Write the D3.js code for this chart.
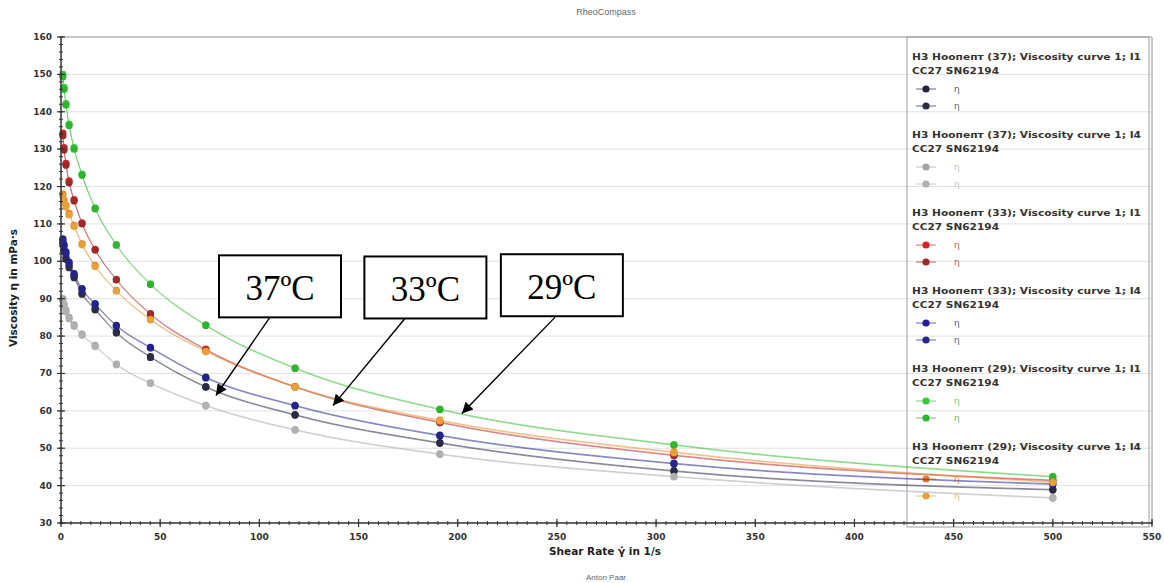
<!DOCTYPE html>
<html>
<head>
<meta charset="utf-8">
<script src="https://cdn.jsdelivr.net/npm/d3@7"></script>
<style>
  body { margin: 0; background: #fff; }
  text { font-family: "DejaVu Sans", Verdana, sans-serif; }
</style>
</head>
<body>
<svg id="chart" width="1164" height="583"></svg>
<script>
// shear rate points of every curve, 1/s
const shearRates = [0.96, 1.55, 2.51, 4.07, 6.6, 10.6, 17.2, 27.9, 45.1, 73, 118, 191, 309, 500];

// viscosity, mPa·s (two η curves per measurement)
const navyA   = [105, 103, 101, 98.8, 96, 91.5, 87.3, 81.1, 74.5, 66.5, 59, 51.5, 44, 39];
const navyB   = [104.5, 102.6, 100.5, 98.3, 95.6, 91.2, 87, 80.8, 74.3, 66.3, 58.8, 51.3, 43.8, 38.8];
const grayA   = [90, 88.5, 87, 85, 83, 80.5, 77.5, 72.5, 67.5, 61.5, 55, 48.5, 42.5, 36.8];
const grayB   = [89.4, 88, 86.5, 84.6, 82.6, 80.2, 77.2, 72.3, 67.3, 61.3, 54.8, 48.3, 42.3, 36.6];
const redA    = [134.3, 130.4, 126.2, 121.5, 116.5, 110.3, 103.2, 95.2, 86, 76.5, 66.5, 57, 48.2, 41.5];
const redB    = [133.6, 129.8, 125.7, 121, 116.1, 110, 103, 95, 85.8, 76.3, 66.3, 56.8, 48, 41.3];
const blueA   = [106, 104.5, 102.5, 99.8, 96.7, 92.7, 88.7, 82.9, 77, 69, 61.5, 53.5, 46, 40.5];
const blueB   = [105.5, 104, 102, 99.4, 96.4, 92.4, 88.4, 82.7, 76.8, 68.8, 61.3, 53.3, 45.8, 40.3];
const greenA  = [150, 146.5, 142.2, 136.7, 130.4, 123.3, 114.3, 104.5, 94, 83, 71.5, 60.5, 51, 42.5];
const greenB  = [149.4, 146, 141.8, 136.3, 130, 123, 114, 104.3, 93.8, 82.8, 71.3, 60.3, 50.8, 42.3];
const orangeA = [118, 116.3, 115, 112.8, 109.6, 104.7, 98.9, 92.2, 84.5, 76, 66.5, 57.5, 49, 41];
const orangeB = [117.4, 115.8, 114.5, 112.4, 109.3, 104.4, 98.6, 92, 84.3, 75.8, 66.3, 57.3, 48.8, 40.8];

const groupTitles = [
  "Н3 Ноопепт (37); Viscosity curve 1; I1",
  "Н3 Ноопепт (37); Viscosity curve 1; I4",
  "Н3 Ноопепт (33); Viscosity curve 1; I1",
  "Н3 Ноопепт (33); Viscosity curve 1; I4",
  "Н3 Ноопепт (29); Viscosity curve 1; I1",
  "Н3 Ноопепт (29); Viscosity curve 1; I4"
];
const groupSub = "CC27 SN62194";

const groups = [
  { series: [navyA, navyB],     colors: ["#22223f", "#2b2b44"] },
  { series: [grayA, grayB],     colors: ["#a4a4a4", "#b0b0b0"] },
  { series: [redA, redB],       colors: ["#d42424", "#9c2a2a"] },
  { series: [blueA, blueB],     colors: ["#1e1e96", "#24248a"] },
  { series: [greenA, greenB],   colors: ["#35c935", "#2fb42f"] },
  { series: [orangeA, orangeB], colors: ["#f07a26", "#e6a23a"] }
];

const xTicks = [0, 50, 100, 150, 200, 250, 300, 350, 400, 450, 500, 550];
const yTicks = [30, 40, 50, 60, 70, 80, 90, 100, 110, 120, 130, 140, 150, 160];

const annotations = [
  { label: "37ºC", cx: 110.4, cy: 93.3, fx: 105.3, fy: 85, tx: 78.1, ty: 64.1 },
  { label: "33ºC", cx: 183.7, cy: 93.0, fx: 173.4, fy: 84.7, tx: 137.1, ty: 61.4 },
  { label: "29ºC", cx: 252.5, cy: 93.6, fx: 249, fy: 85, tx: 202.1, ty: 59.3 }
];

const svg = d3.select("#chart");
const plotLeft = 61, plotRight = 1152, plotTop = 37, plotBottom = 523;

const x = d3.scaleLinear().domain([0, 550]).range([plotLeft, plotRight]);
const y = d3.scaleLinear().domain([30, 160]).range([plotBottom, plotTop]);

// title and footer
svg.append("text").attr("x", 606).attr("y", 15).attr("text-anchor", "middle")
  .style("font-family", "'Liberation Sans', Arial, sans-serif")
  .attr("font-size", 9).attr("fill", "#666").text("RheoCompass");
svg.append("text").attr("x", 606).attr("y", 580).attr("text-anchor", "middle")
  .style("font-family", "'Liberation Sans', Arial, sans-serif")
  .attr("font-size", 8).attr("fill", "#666").text("Anton Paar");

// grid
svg.append("g").selectAll("line")
  .data(yTicks.filter(d => d > 30 && d < 160))
  .enter().append("line")
  .attr("x1", plotLeft).attr("x2", plotRight)
  .attr("y1", d => y(d)).attr("y2", d => y(d))
  .attr("stroke", "#e2e2e2").attr("stroke-width", 1);

// frame
svg.append("line").attr("x1", plotLeft).attr("x2", plotRight).attr("y1", plotTop).attr("y2", plotTop)
  .attr("stroke", "#c8c8c8").attr("stroke-width", 2);
svg.append("line").attr("x1", plotRight).attr("x2", plotRight).attr("y1", plotTop).attr("y2", plotBottom)
  .attr("stroke", "#c8c8c8").attr("stroke-width", 2);

// legend (transparent, curves run through it)
const lg = svg.append("g");
lg.append("rect").attr("x", 907).attr("y", plotTop).attr("width", 242).attr("height", 490)
  .attr("fill", "none").attr("stroke", "#a0a0a0").attr("stroke-width", 1);

groups.forEach((grp, gi) => {
  const gy = 60 + gi * 78;
  lg.append("text").attr("x", 912).attr("y", gy).attr("font-size", 9.5)
    .attr("font-weight", "bold").attr("fill", "#333")
    .attr("textLength", 229).attr("lengthAdjust", "spacingAndGlyphs")
    .text(groupTitles[gi]);
  lg.append("text").attr("x", 912).attr("y", gy + 14).attr("font-size", 9.5)
    .attr("font-weight", "bold").attr("fill", "#333")
    .attr("textLength", 87).attr("lengthAdjust", "spacingAndGlyphs")
    .text(groupSub);
  grp.colors.forEach((c, i) => {
    const my = gy + 29 + i * 17;
    lg.append("line").attr("x1", 916).attr("x2", 936).attr("y1", my).attr("y2", my)
      .attr("stroke", c).attr("stroke-opacity", 0.7).attr("stroke-width", 1);
    lg.append("circle").attr("cx", 926).attr("cy", my).attr("r", 3.6).attr("fill", c);
    lg.append("text").attr("x", 954).attr("y", my + 3).attr("font-size", 9)
      .attr("fill", c).attr("fill-opacity", 0.8).text("η");
  });
});

// curves
const line = d3.line()
  .x(d => x(d[0]))
  .y(d => y(d[1]))
  .curve(d3.curveMonotoneX);

const plot = svg.append("g");
groups.forEach(grp => {
  grp.series.forEach((vals, i) => {
    const pts = shearRates.map((s, k) => [s, vals[k]]);
    plot.append("path")
      .datum(pts)
      .attr("d", line)
      .attr("fill", "none")
      .attr("stroke", grp.colors[i])
      .attr("stroke-opacity", 0.5)
      .attr("stroke-width", 1);
  });
});
groups.forEach(grp => {
  grp.series.forEach((vals, i) => {
    plot.append("g").selectAll("circle")
      .data(shearRates.map((s, k) => [s, vals[k]]))
      .enter().append("circle")
      .attr("cx", d => x(d[0]))
      .attr("cy", d => y(d[1]))
      .attr("r", 3.6)
      .attr("fill", grp.colors[i]);
  });
});

// axes
const axes = svg.append("g").attr("stroke", "#333");
axes.append("line").attr("x1", plotLeft).attr("x2", plotRight).attr("y1", plotBottom).attr("y2", plotBottom).attr("stroke-width", 1.5);
axes.append("line").attr("x1", plotLeft).attr("x2", plotLeft).attr("y1", plotTop).attr("y2", plotBottom).attr("stroke-width", 1.5);

axes.selectAll(".xminor").data(d3.range(0, 551, 5)).enter().append("line")
  .attr("x1", d => x(d)).attr("x2", d => x(d))
  .attr("y1", plotBottom - 2).attr("y2", plotBottom + 2).attr("stroke-width", 1);
axes.selectAll(".xmajor").data(xTicks).enter().append("line")
  .attr("x1", d => x(d)).attr("x2", d => x(d))
  .attr("y1", plotBottom - 4).attr("y2", plotBottom + 4).attr("stroke-width", 1.2);
axes.selectAll(".yminor").data(d3.range(30, 161, 2)).enter().append("line")
  .attr("y1", d => y(d)).attr("y2", d => y(d))
  .attr("x1", plotLeft - 2).attr("x2", plotLeft + 2).attr("stroke-width", 1);
axes.selectAll(".ymajor").data(yTicks).enter().append("line")
  .attr("y1", d => y(d)).attr("y2", d => y(d))
  .attr("x1", plotLeft - 4).attr("x2", plotLeft + 4).attr("stroke-width", 1.2);

svg.append("g").selectAll("text").data(xTicks).enter().append("text")
  .attr("x", d => x(d)).attr("y", plotBottom + 17)
  .attr("text-anchor", "middle").attr("font-size", 9).attr("font-weight", "bold")
  .attr("fill", "#333").text(d => d);
svg.append("g").selectAll("text").data(yTicks).enter().append("text")
  .attr("x", plotLeft - 9).attr("y", d => y(d) + 3)
  .attr("text-anchor", "end").attr("font-size", 9).attr("font-weight", "bold")
  .attr("fill", "#333").text(d => d);

svg.append("text").attr("x", 605).attr("y", 555).attr("text-anchor", "middle")
  .attr("font-size", 10.5).attr("font-weight", "bold").attr("fill", "#222")
  .text("Shear Rate γ̇ in 1/s");
svg.append("text")
  .attr("transform", `translate(17,${(plotTop + plotBottom) / 2 + 8}) rotate(-90)`)
  .attr("text-anchor", "middle").attr("font-size", 10.5).attr("font-weight", "bold")
  .attr("fill", "#222").text("Viscosity η in mPa·s");

// annotations
svg.append("defs").append("marker")
  .attr("id", "arrow").attr("viewBox", "0 0 10 10")
  .attr("refX", 10).attr("refY", 5)
  .attr("markerWidth", 15).attr("markerHeight", 11)
  .attr("markerUnits", "userSpaceOnUse")
  .attr("orient", "auto")
  .append("path").attr("d", "M0,0 L10,5 L0,10 Z").attr("fill", "#000");

const ann = svg.append("g");
annotations.forEach(a => {
  ann.append("line")
    .attr("x1", x(a.fx)).attr("y1", y(a.fy))
    .attr("x2", x(a.tx)).attr("y2", y(a.ty))
    .attr("stroke", "#000").attr("stroke-width", 1.4)
    .attr("marker-end", "url(#arrow)");
  ann.append("rect")
    .attr("x", x(a.cx) - 61).attr("y", y(a.cy) - 31)
    .attr("width", 122).attr("height", 62)
    .attr("fill", "#fff").attr("stroke", "#000").attr("stroke-width", 2);
  ann.append("text")
    .attr("x", x(a.cx)).attr("y", y(a.cy) + 14)
    .attr("text-anchor", "middle")
    .style("font-family", "'Liberation Serif', 'Times New Roman', serif")
    .attr("font-size", 35).attr("fill", "#000")
    .text(a.label);
});
</script>
</body>
</html>
